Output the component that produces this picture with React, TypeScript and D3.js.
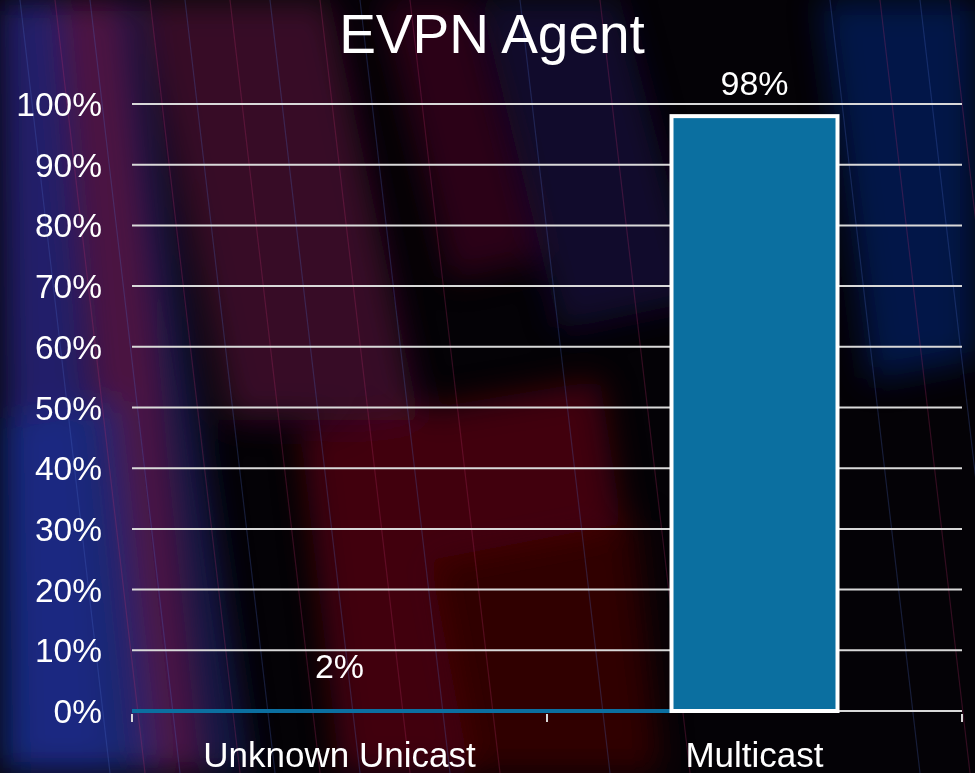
import * as d3 from 'd3';
import React, { useRef, useEffect } from 'react';

const title = "EVPN Agent";
const categories = ["Unknown Unicast", "Multicast"];
const values = [2, 98];
const yTicks = [0, 10, 20, 30, 40, 50, 60, 70, 80, 90, 100];

// background streaks (decoration only)
const glowPolys = [
  { pts: "0,0 140,0 250,773 0,773", color: "#1b2a7a", op: 0.55 },
  { pts: "60,0 120,0 200,773 130,773", color: "#8a1440", op: 0.5 },
  { pts: "140,0 330,0 420,420 230,420", color: "#6a1446", op: 0.5 },
  { pts: "0,0 60,0 110,773 20,773", color: "#3a2490", op: 0.5 },
  { pts: "300,430 600,380 660,773 340,773", color: "#6a0610", op: 0.6 },
  { pts: "430,560 640,520 660,773 470,773", color: "#2a0204", op: 0.8 },
  { pts: "480,0 620,0 700,300 560,330", color: "#2a1a6a", op: 0.4 },
  { pts: "820,0 975,0 975,360 870,380", color: "#0c2a8a", op: 0.5 },
  { pts: "380,0 470,0 540,260 450,280", color: "#5a0c2a", op: 0.45 },
  { pts: "0,420 120,400 160,773 0,773", color: "#0f3aa0", op: 0.45 },
];
const streakXs = [20, 55, 90, 150, 185, 230, 270, 320, 360, 410, 520, 600, 830, 880, 920, 950];

export default function App() {
  const ref = useRef<SVGSVGElement>(null);
  const width = 975;
  const height = 773;

  useEffect(() => {
    const svg = d3.select(ref.current);
    svg.selectAll("*").remove();

    const font = "'Liberation Sans', Arial, sans-serif";

    const x = d3.scaleBand().domain(categories).range([132, 962]).paddingInner(0.6).paddingOuter(0.3);
    const y = d3.scaleLinear().domain([0, 100]).range([711, 104]);

    // background
    const defs = svg.append("defs");
    defs.append("filter").attr("id", "blur").append("feGaussianBlur").attr("stdDeviation", 16);
    svg.append("rect").attr("width", width).attr("height", height).attr("fill", "#040206");
    const bg = svg.append("g").attr("filter", "url(#blur)");
    bg.selectAll("polygon").data(glowPolys).enter().append("polygon")
      .attr("points", d => d.pts).attr("fill", d => d.color).attr("opacity", d => d.op);
    svg.append("g").selectAll("line").data(streakXs).enter().append("line")
      .attr("x1", d => d).attr("y1", 0)
      .attr("x2", d => d + 90).attr("y2", height)
      .attr("stroke", (d, i) => i % 2 ? "#c03070" : "#5070d0")
      .attr("stroke-width", 1.2).attr("opacity", 0.25);

    // title
    svg.append("text").attr("x", 492).attr("y", 53).attr("text-anchor", "middle")
      .attr("fill", "#fff").style("font-family", font).style("font-size", "55px").text(title);

    // gridlines
    svg.append("g").selectAll("line").data(yTicks.filter(t => t > 0)).enter().append("line")
      .attr("x1", 132).attr("x2", 962)
      .attr("y1", d => y(d)).attr("y2", d => y(d))
      .attr("stroke", "#d9d9d9").attr("stroke-width", 2);

    // y labels
    svg.append("g").selectAll("text").data(yTicks).enter().append("text")
      .attr("x", 102).attr("y", d => y(d) + 12).attr("text-anchor", "end")
      .attr("fill", "#fff").style("font-family", font).style("font-size", "33.5px")
      .text(d => d + "%");

    // baseline + tick marks
    const bigBar = categories[1];
    svg.append("line").attr("x1", 132).attr("x2", 962).attr("y1", y(0)).attr("y2", y(0))
      .attr("stroke", "#d9d9d9").attr("stroke-width", 2);
    const bounds = [0, 1, 2].map(i => 132 + i * x.step());
    svg.append("g").selectAll("line").data(bounds).enter().append("line")
      .attr("x1", d => d).attr("x2", d => d).attr("y1", y(0) + 3).attr("y2", y(0) + 11)
      .attr("stroke", "#d9d9d9").attr("stroke-width", 2);

    // the small value shows as a flat strip along the axis
    svg.append("line").attr("x1", 132).attr("x2", x(bigBar)!).attr("y1", y(0)).attr("y2", y(0))
      .attr("stroke", "#0b6fa0").attr("stroke-width", 4);

    // bars
    svg.append("g").selectAll("rect").data(values.map((v, i) => ({ v, c: categories[i] })).filter(d => d.v > 10))
      .enter().append("rect")
      .attr("x", d => x(d.c)!).attr("width", x.bandwidth())
      .attr("y", d => y(d.v)).attr("height", d => y(0) - y(d.v))
      .attr("fill", "#0b6fa0").attr("stroke", "#fff").attr("stroke-width", 4);

    // value labels
    svg.append("g").selectAll("text").data(values).enter().append("text")
      .attr("x", (d, i) => x(categories[i])! + x.bandwidth() / 2)
      .attr("y", d => y(d) - 21).attr("text-anchor", "middle")
      .attr("fill", "#fff").style("font-family", font).style("font-size", "34px")
      .text(d => d + "%");

    // category labels
    svg.append("g").selectAll("text").data(categories).enter().append("text")
      .attr("x", d => x(d)! + x.bandwidth() / 2).attr("y", 767).attr("text-anchor", "middle")
      .attr("fill", "#fff").style("font-family", font).style("font-size", "35px")
      .text(d => d);
  }, []);

  return <svg ref={ref} width={width} height={height} style={{ position: "absolute", left: 0, top: 0 }} />;
}
